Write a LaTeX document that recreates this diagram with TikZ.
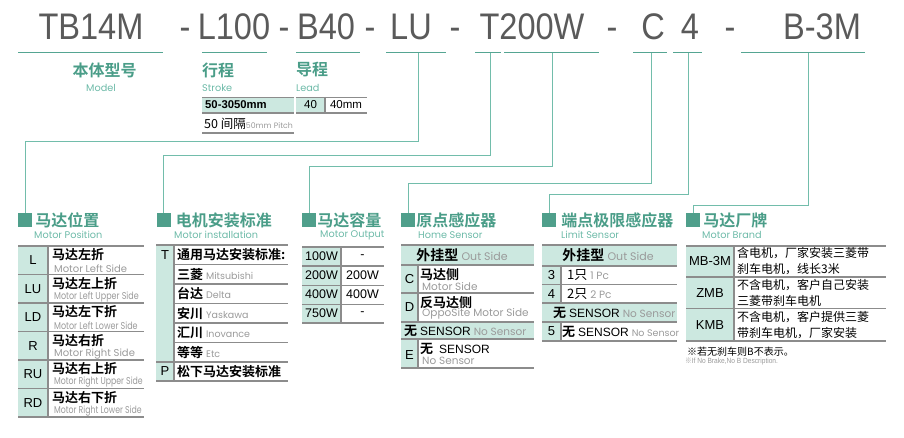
\documentclass[tikz,border=0pt]{standalone}
\usepackage{fontspec}
\setmainfont{Liberation Sans}
\newfontfamily\cjk[BoldFont={Noto Sans CJK SC Bold}]{Noto Sans CJK SC}
\newfontfamily\eng{Poppins}
\newfontfamily\titlefont[FakeStretch=0.88]{Liberation Sans}
\usetikzlibrary{positioning}

\definecolor{titlegrey}{HTML}{5A5A5A}
\definecolor{ulteal}{HTML}{55A592}
\definecolor{linkteal}{HTML}{72BDAB}
\definecolor{headteal}{HTML}{4A9D88}
\definecolor{subteal}{HTML}{6DBAA8}
\definecolor{sqteal}{HTML}{4F9F8B}
\definecolor{cellfill}{HTML}{CCE8E0}
\definecolor{gridgrey}{HTML}{8C8C8C}
\definecolor{engrey}{HTML}{9A9A9A}

\newcommand{\gr}[2][9.5]{{\eng\mdseries\fontsize{#1}{#1}\selectfont\color{engrey}#2}}

\begin{document}
\begin{tikzpicture}[x=1pt, y=-1pt,
    ul/.style={draw=ulteal, line width=1pt},
    conn/.style={draw=linkteal, line width=1pt},
    grid/.style={draw=gridgrey, line width=1.1pt},
    sq/.style={fill=sqteal, minimum size=14pt, inner sep=0pt},
    ttl/.style={font=\titlefont\fontsize{37}{37}\selectfont, text=titlegrey, anchor=base, inner sep=0pt},
    hd/.style={font=\cjk\bfseries\fontsize{16}{16}\selectfont, text=headteal, inner sep=0pt},
    sub/.style={font=\eng\fontsize{9.7}{9.7}\selectfont, text=subteal, anchor=west, inner sep=0pt},
    zh/.style={font=\cjk\bfseries\fontsize{13}{13}\selectfont, anchor=west, inner sep=0pt},
    zr/.style={font=\cjk\fontsize{12}{12}\selectfont, anchor=west, inner sep=0pt},
    en/.style={font=\eng\fontsize{10}{10}\selectfont, text=engrey, anchor=west, inner sep=0pt},
    code/.style={font=\fontsize{13}{13}\selectfont, inner sep=0pt}]
    \useasboundingbox (0,0) rectangle (904,438);

    % Model code
    \node [ttl] (mModel) at (91,40)  {TB14M};
    \node [ttl] (d1)     at (185,40) {-};
    \node [ttl] (mStroke) at (234,40) {L100};
    \node [ttl] (d2)     at (284,40) {-};
    \node [ttl] (mLead)  at (326,40) {B40};
    \node [ttl] (d3)     at (370,40) {-};
    \node [ttl] (mPos)   at (411,40) {LU};
    \node [ttl] (d4)     at (455,40) {-};
    \node [ttl] (mInst)  at (532,40) {T200W};
    \node [ttl] (d5)     at (612,40) {-};
    \node [ttl] (mHome)  at (653,40) {C};
    \node [ttl] (mLim)   at (690,40) {4};
    \node [ttl] (d6)     at (730,40) {-};
    \node [ttl] (mBrand) at (822,40) {B-3M};
    \foreach \a/\b in {18/163, 202/267, 296/360, 386/446, 475/501, 504/599, 633/667, 673/702, 741/865}
        \draw [ul] (\a,53) -- (\b,53);

    % Model, stroke, lead
    \node [hd] (hModel) at (104.5,70) {本体型号};
    \node [sub, anchor=center] (sModel) at (101,88) {Model};
    \node [hd, anchor=west] (hStroke) at (202,70) {行程};
    \node [sub] (sStroke) at (202,88) {Stroke};
    \node [hd, anchor=west] (hLead) at (296,70) {导程};
    \node [sub] (sLead) at (296,88) {Lead};

    \fill [cellfill] (202,97) rectangle (294,113);
    \draw [grid, line width=0.6pt] (202,97) -- (294,97);
    \draw [grid] (202,113) -- (294,113);
    \draw [grid] (202,133) -- (294,133);
    \node [font=\bfseries\fontsize{11.3}{11.3}\selectfont, anchor=west, inner sep=0pt] (st1) at (205,105) {50-3050mm};
    \node [zr, font=\cjk\fontsize{12.5}{12.5}\selectfont] (st2) at (204,124) {50 间隔\gr[7.8]{50mm Pitch}};

    \fill [cellfill] (296,97) rectangle (325,113);
    \draw [grid, line width=0.6pt] (296,97) -- (367,97);
    \draw [grid] (296,113) -- (367,113);
    \draw [grid] (325,97) -- (325,113);
    \node [font=\fontsize{11.5}{11.5}\selectfont, inner sep=0pt] (ld1) at (310.5,105) {40};
    \node [font=\fontsize{11.5}{11.5}\selectfont, inner sep=0pt] (ld2) at (346,105) {40mm};

    % Heading squares
    \node [sq] (sqPos)   at (25,220)  {};
    \node [sq] (sqInst)  at (163.5,220) {};
    \node [sq] (sqOut)   at (309,220) {};
    \node [sq] (sqHome)  at (408,220) {};
    \node [sq] (sqLim)   at (549,220) {};
    \node [sq] (sqBrand) at (693,220) {};

    \node [hd, right=3pt of sqPos]   (hPos)   {马达位置};
    \node [hd, right=5pt of sqInst]  (hInst)  {电机安装标准};
    \node [hd, right=1pt of sqOut]   (hOut)   {马达容量};
    \node [hd, right=1pt of sqHome]  (hHome)  {原点感应器};
    \node [hd, right=5pt of sqLim]   (hLim)   {端点极限感应器};
    \node [hd, right=3pt of sqBrand] (hBrand) {马达厂牌};

    \node [sub] (sPos)   at (34,235)  {Motor Position};
    \node [sub] (sInst)  at (174,235) {Motor installation};
    \node [sub] (sOut)   at (320,235) {Motor Output};
    \node [sub] (sHome)  at (418,235) {Home Sensor};
    \node [sub] (sLim)   at (561,235) {Limit Sensor};
    \node [sub] (sBrand) at (702,235) {Motor Brand};

    % Paths
    \coordinate (uPos)   at (418,53);  \coordinate (kPos)   at (418,142);
    \coordinate (uInst)  at (490,53);  \coordinate (kInst)  at (490,156);
    \coordinate (uOut)   at (552,53);  \coordinate (kOut)   at (552,167);
    \coordinate (uHome)  at (651,53);  \coordinate (kHome)  at (651,184);
    \coordinate (uLim)   at (688,53);  \coordinate (kLim)   at (688,195);
    \coordinate (uBrand) at (808,53);  \coordinate (kBrand) at (808,206);
    \draw [conn] (uPos)   -- (kPos)   -| (sqPos);
    \draw [conn] (uInst)  -- (kInst)  -| (sqInst);
    \draw [conn] (uOut)   -- (kOut)   -| (sqOut);
    \draw [conn] (uHome)  -- (kHome)  -| (sqHome);
    \draw [conn] (uLim)   -- (kLim)   -| (sqLim);
    \draw [conn] (uBrand) -- (kBrand) -| (sqBrand);

    % Motor position
    \fill [cellfill] (18,246) rectangle (48,417);
    \foreach \y in {246,274.5,303,331.5,360,388.5,417}
        \draw [grid] (18,\y) -- (144,\y);
    \draw [grid] (48,246) -- (48,417);
    \foreach \c/\z/\e/\s [count=\i from 0] in {L/马达左折/Motor Left Side/1,
        LU/马达左上折/Motor Left Upper Side/0.8, LD/马达左下折/Motor Left Lower Side/0.8,
        R/马达右折/Motor Right Side/1, RU/马达右上折/Motor Right Upper Side/0.78,
        RD/马达右下折/Motor Right Lower Side/0.78} {
        \node [code] (pc\i) at (33,260.25+28.5*\i) {\c};
        \node [zh]   (pz\i) at (52,255+28.5*\i) {\z};
        \node [en]   (pe\i) at (54,268.5+28.5*\i) {\scalebox{\s}[1]{\e}};
    }

    % Motor installation
    \fill [cellfill] (156,245) rectangle (174,381);
    \foreach \y in {245,362,381}
        \draw [grid] (156,\y) -- (288,\y);
    \foreach \y in {264.5,284,303.5,323,342.5}
        \draw [grid] (174,\y) -- (288,\y);
    \draw [grid] (174,245) -- (174,381);
    \node [code] (ic1) at (165,254.75) {T};
    \node [code] (ic7) at (165,371.5) {P};
    \node [zh] (iz1) at (177,254.75) {通用马达安装标准:};
    \node [zh] (iz2) at (177,274.25) {三菱 \gr{Mitsubishi}};
    \node [zh] (iz3) at (177,293.75) {台达 \gr{Delta}};
    \node [zh] (iz4) at (177,313.25) {安川 \gr{Yaskawa}};
    \node [zh] (iz5) at (177,332.75) {汇川 \gr{Inovance}};
    \node [zh] (iz6) at (177,352.25) {等等 \gr{Etc}};
    \node [zh] (iz7) at (177,371.5) {松下马达安装标准};

    % Motor output
    \fill [cellfill] (302,247) rectangle (341,323);
    \foreach \y in {247,266,285.5,304.5,323}
        \draw [grid] (302,\y) -- (384,\y);
    \draw [grid] (341,247) -- (341,323);
    \foreach \a/\b [count=\i from 0] in {100W/-, 200W/200W, 400W/400W, 750W/-} {
        \node [code, font=\fontsize{12.5}{12.5}\selectfont] (oa\i) at (321.5,256.5+19*\i) {\a};
        \node [code, font=\fontsize{12.5}{12.5}\selectfont] (ob\i) at (362.5,256.5+19*\i) {\b};
    }

    % Home sensor
    \fill [cellfill] (401,245) rectangle (534,265);
    \fill [cellfill] (401,265) rectangle (418,322);
    \fill [cellfill] (401,322) rectangle (534,339);
    \fill [cellfill] (401,339) rectangle (418,368);
    \foreach \y in {245,265,293,322,339,368}
        \draw [grid] (401,\y) -- (534,\y);
    \draw [grid] (418,265) -- (418,322);
    \draw [grid] (418,339) -- (418,368);
    \node [zh, anchor=center, font=\cjk\bfseries\fontsize{14}{14}\selectfont] (hs1) at (462,255) {外挂型 \gr[11]{Out Side}};
    \node [code] (hc2) at (409.5,279) {C};
    \node [zh] (hz2) at (420,275) {马达侧};
    \node [en] (he2) at (422,287) {\gr[10.5]{Motor Side}};
    \node [code] (hc3) at (409.5,307) {D};
    \node [zh] (hz3) at (420,303) {反马达侧};
    \node [en] (he3) at (422,313.5) {\gr[10.5]{OppoSite Motor Side}};
    \node [zh] (hs4) at (404,330.5) {无 {\mdseries\fontsize{12}{12}\selectfont\rmfamily SENSOR} \gr[10.5]{No Sensor}};
    \node [code] (hc5) at (409.5,355) {E};
    \node [zh] (hz5) at (420,348.5) {无\ \ {\mdseries\fontsize{12}{12}\selectfont\rmfamily SENSOR}};
    \node [en] (he5) at (422,360.5) {\gr[10.5]{No Sensor}};

    % Limit sensor
    \fill [cellfill] (542,245) rectangle (677,266);
    \fill [cellfill] (542,266) rectangle (561,303);
    \fill [cellfill] (542,303) rectangle (677,322);
    \fill [cellfill] (542,322) rectangle (561,341);
    \foreach \y in {245,266,284.5,303,322,341}
        \draw [grid] (542,\y) -- (677,\y);
    \draw [grid] (561,266) -- (561,303);
    \draw [grid] (561,322) -- (561,341);
    \node [zh, anchor=center, font=\cjk\bfseries\fontsize{14}{14}\selectfont] (ls1) at (608,255.5) {外挂型 \gr[11]{Out Side}};
    \node [code] (lc2) at (551.5,275.25) {3};
    \node [zr, font=\cjk\fontsize{13}{13}\selectfont] (lz2) at (567,275.25) {1只 \gr[10.5]{1 Pc}};
    \node [code] (lc3) at (551.5,293.75) {4};
    \node [zr, font=\cjk\fontsize{13}{13}\selectfont] (lz3) at (567,293.75) {2只 \gr[10.5]{2 Pc}};
    \node [zh] (ls4) at (553,312.5) {无 {\mdseries\fontsize{12}{12}\selectfont\rmfamily SENSOR} \gr[10.5]{No Sensor}};
    \node [code] (lc5) at (551.5,331.5) {5};
    \node [zh] (lz5) at (562,331.5) {无 {\mdseries\fontsize{12}{12}\selectfont\rmfamily SENSOR} \gr[9.5]{No Sensor}};

    % Motor brand
    \fill [cellfill] (686,246) rectangle (734,341);
    \foreach \y in {246,277,308.5,341}
        \draw [grid] (686,\y) -- (886,\y);
    \draw [grid] (734,246) -- (734,341);
    \node [code] (bc1) at (710,261.5) {MB-3M};
    \node [code] (bc2) at (710,293) {ZMB};
    \node [code] (bc3) at (710,325) {KMB};
    \node [zr, align=left, font=\cjk\fontsize{12}{16}\selectfont] (bz1) at (737,261.5) {含电机，厂家安装三菱带\\刹车电机，线长3米};
    \node [zr, align=left, font=\cjk\fontsize{12}{16}\selectfont] (bz2) at (737,292.5) {不含电机，客户自己安装\\三菱带刹车电机};
    \node [zr, align=left, font=\cjk\fontsize{12}{16}\selectfont] (bz3) at (737,325) {不含电机，客户提供三菱\\带刹车电机，厂家安装};
    \node [zr, font=\cjk\fontsize{10}{10}\selectfont] (note1) at (687,352) {※若无刹车则B不表示。};
    \node [anchor=west, inner sep=0pt, text=engrey, font=\fontsize{7.5}{7.5}\selectfont] (note2) at (685,362) {\scalebox{0.88}[1]{{\cjk ※}If No Brake,No B Description.}};
\end{tikzpicture}
\end{document}
